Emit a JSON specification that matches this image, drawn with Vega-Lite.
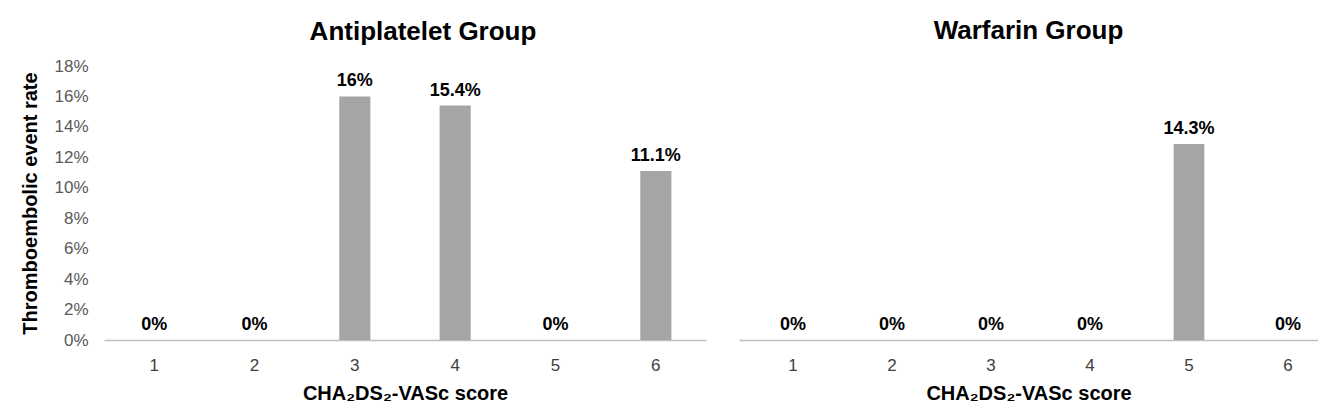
{
  "$schema": "https://vega.github.io/schema/vega-lite/v6.json",
  "padding": {"left": 20, "top": 18, "right": 0, "bottom": 0},
  "background": "white",
  "config": {
    "view": {"stroke": null},
    "font": "Liberation Sans",
    "title": {"font": "Liberation Sans", "fontSize": 26, "fontWeight": "bold", "color": "#000000"}
  },
  "spacing": 33,
  "datasets": {
    "rates": [
      {"group": "Antiplatelet", "score": "1", "rate": 0},
      {"group": "Antiplatelet", "score": "2", "rate": 0},
      {"group": "Antiplatelet", "score": "3", "rate": 0.16},
      {"group": "Antiplatelet", "score": "4", "rate": 0.154},
      {"group": "Antiplatelet", "score": "5", "rate": 0},
      {"group": "Antiplatelet", "score": "6", "rate": 0.111},
      {"group": "Warfarin", "score": "1", "rate": 0},
      {"group": "Warfarin", "score": "2", "rate": 0},
      {"group": "Warfarin", "score": "3", "rate": 0},
      {"group": "Warfarin", "score": "4", "rate": 0},
      {"group": "Warfarin", "score": "5", "rate": 0.143},
      {"group": "Warfarin", "score": "6", "rate": 0}
    ]
  },
  "hconcat": [
    {
      "title": {"text": "Antiplatelet Group", "offset": 12, "dx": 18},
      "width": 602,
      "height": 274,
      "data": {"name": "rates"},
      "transform": [{"filter": "datum.group === 'Antiplatelet'"}],
      "encoding": {
        "x": {
          "field": "score", "type": "ordinal",
          "scale": {"paddingInner": 0.69, "paddingOuter": 0.345},
          "axis": {
            "title": "CHA₂DS₂-VASc score", "titleFont": "Liberation Sans", "titleFontSize": 20, "titleFontWeight": "bold", "titleColor": "#000000", "titlePadding": 10,
            "labelAngle": 0, "labelFont": "Liberation Sans", "labelFontSize": 17, "labelColor": "#404040", "labelPadding": 17,
            "ticks": false, "domainColor": "#BFBFBF", "domainWidth": 1.5
          }
        },
        "y": {
          "field": "rate", "type": "quantitative",
          "scale": {"domain": [0, 0.18], "nice": false},
          "axis": {
            "title": "Thromboembolic event rate", "titleFont": "Liberation Sans", "titleFontSize": 20, "titleFontWeight": "bold", "titleColor": "#000000", "titlePadding": 13,
            "values": [0, 0.02, 0.04, 0.06, 0.08, 0.1, 0.12, 0.14, 0.16, 0.18], "format": ".0%",
            "labelFont": "Liberation Sans", "labelFontSize": 17, "labelColor": "#595959", "labelPadding": 16,
            "ticks": false, "domain": false, "grid": false
          }
        }
      },
      "layer": [
        {"mark": {"type": "bar", "color": "#A5A5A5"}},
        {"mark": {"type": "text", "font": "Liberation Sans", "fontSize": 18, "fontWeight": "bold", "color": "#000000", "baseline": "alphabetic", "dy": -10},
         "encoding": {"text": {"field": "rate", "type": "quantitative", "format": ".1~%"}}}
      ]
    },
    {
      "title": {"text": "Warfarin Group", "offset": 22},
      "width": 579,
      "height": 274,
      "data": {"name": "rates"},
      "transform": [{"filter": "datum.group === 'Warfarin'"}],
      "encoding": {
        "x": {
          "field": "score", "type": "ordinal",
          "scale": {"paddingInner": 0.69, "paddingOuter": 0.269, "align": 0.725},
          "axis": {
            "title": "CHA₂DS₂-VASc score", "titleFont": "Liberation Sans", "titleFontSize": 20, "titleFontWeight": "bold", "titleColor": "#000000", "titlePadding": 10,
            "labelAngle": 0, "labelFont": "Liberation Sans", "labelFontSize": 17, "labelColor": "#404040", "labelPadding": 17,
            "ticks": false, "domainColor": "#BFBFBF", "domainWidth": 1.5
          }
        },
        "y": {
          "field": "rate", "type": "quantitative",
          "scale": {"domain": [0, 0.2], "nice": false},
          "axis": null
        }
      },
      "layer": [
        {"mark": {"type": "bar", "color": "#A5A5A5"}},
        {"mark": {"type": "text", "font": "Liberation Sans", "fontSize": 18, "fontWeight": "bold", "color": "#000000", "baseline": "alphabetic", "dy": -10},
         "encoding": {"text": {"field": "rate", "type": "quantitative", "format": ".1~%"}}}
      ]
    }
  ]
}
